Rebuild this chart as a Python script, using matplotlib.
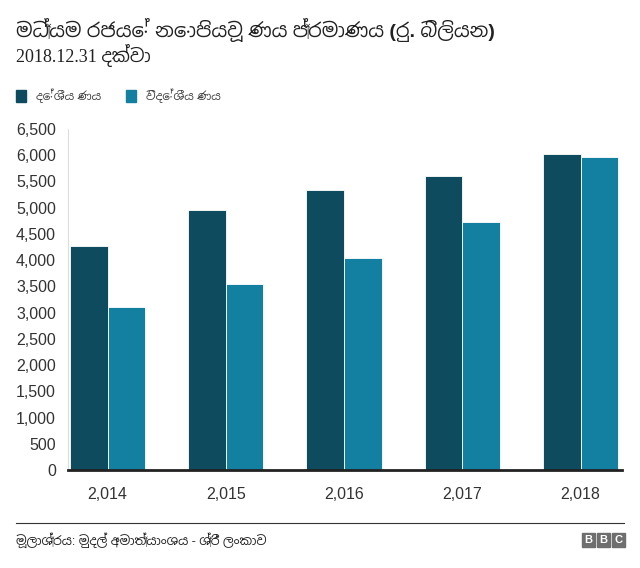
import numpy as np
import matplotlib
matplotlib.use('Agg')
import matplotlib.pyplot as plt
from matplotlib import font_manager
from matplotlib.patches import Rectangle

years = ['2,014', '2,015', '2,016', '2,017', '2,018']
domestic = [4277, 4959, 5341, 5594, 6018]
foreign = [3113, 3544, 4045, 4719, 5959]
yticks = list(range(0, 7000, 500))

title = 'මධ්‍යම රජයේ නොපියවූ ණය ප්‍රමාණය (රු. බිලියන)'
subtitle = '2018.12.31 දක්වා'
labels = ['දේශීය ණය', 'විදේශීය ණය']
source = 'මූලාශ්‍රය: මුදල් අමාත්‍යාංශය - ශ්‍රී ලංකාව'

# look for any font that has sinhala glyphs
sinhala = []
for f in font_manager.fontManager.ttflist:
    if 'sinhala' in f.name.lower() or 'iskoola' in f.name.lower():
        if f.name not in sinhala:
            sinhala.append(f.name)
sans = ['Liberation Sans'] + sinhala + ['DejaVu Sans']
serif = ['Liberation Serif'] + sinhala + ['DejaVu Sans']
plt.rcParams['font.family'] = sans

DARK = '#0f4b5e'
LIGHT = '#1380a1'
TXT = '#333333'

fig = plt.figure(figsize=(6.4, 5.68), dpi=100)
ax = fig.add_axes([0.107, 0.1725, 0.865, 0.6005])

x = np.arange(len(years))
w = 0.318
ax.bar(x - w / 2, domestic, w, color=DARK, edgecolor='white', linewidth=0.6)
ax.bar(x + w / 2, foreign, w, color=LIGHT, edgecolor='white', linewidth=0.6)

ax.set_xlim(-0.33, 4.35)
ax.set_ylim(0, 6500)
ax.set_yticks(yticks)
ax.set_yticklabels([f'{v:,}' for v in yticks], fontsize=11.5, color=TXT)
ax.set_xticks(x)
ax.set_xticklabels(years, fontsize=11.5, color=TXT)
ax.tick_params(axis='both', length=0)
ax.tick_params(axis='y', pad=9)
ax.tick_params(axis='x', pad=12)
for s in ['top', 'right']:
    ax.spines[s].set_visible(False)
ax.spines['left'].set_color('#dddddd')
ax.spines['left'].set_linewidth(0.8)
ax.spines['bottom'].set_color('#222222')
ax.spines['bottom'].set_linewidth(2)

fig.text(0.025, 0.947, title, fontsize=14, fontweight='bold', color='#222222', va='center')
fig.text(0.025, 0.903, subtitle, fontsize=13, color='#222222', va='center', family=serif)

# legend
fig.patches.append(Rectangle((16 / 640, 1 - 102 / 568), 10 / 640, 12 / 568,
                             transform=fig.transFigure, color=DARK))
fig.text(36 / 640, 1 - 96 / 568, labels[0], fontsize=8.5, color='#444444', va='center')
fig.patches.append(Rectangle((126 / 640, 1 - 102 / 568), 10 / 640, 12 / 568,
                             transform=fig.transFigure, color=LIGHT))
fig.text(146 / 640, 1 - 96 / 568, labels[1], fontsize=8.5, color='#444444', va='center')

# footer
fig.add_artist(plt.Line2D([16 / 640, 624 / 640], [1 - 523 / 568] * 2,
                          transform=fig.transFigure, color='#333333', linewidth=0.8))
fig.text(16 / 640, 1 - 540 / 568, source, fontsize=9, color='#222222', va='center')
for i, ch in enumerate('BBC'):
    x0 = (582 + i * 15) / 640
    fig.patches.append(Rectangle((x0, 1 - 547 / 568), 13 / 640, 14 / 568,
                                 transform=fig.transFigure, color='#6e6e6e'))
    fig.text(x0 + 6.5 / 640, 1 - 540 / 568, ch, fontsize=8, fontweight='bold',
             color='white', ha='center', va='center')

fig.savefig('out.png', dpi=100, facecolor='white')
